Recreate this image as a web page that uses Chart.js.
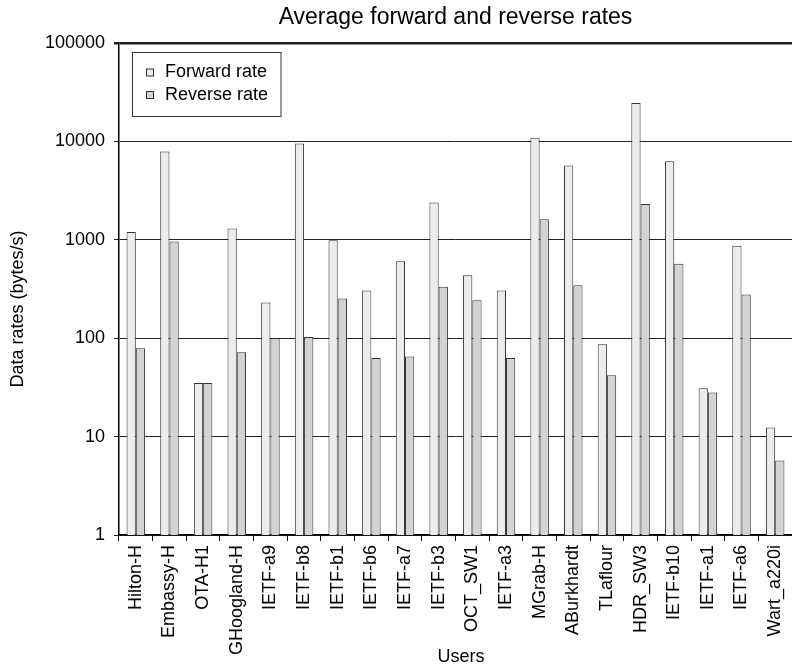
<!DOCTYPE html>
<html lang="en">
<head>
<meta charset="UTF-8">
<title>Average forward and reverse rates</title>
<script src="https://cdn.jsdelivr.net/npm/chart.js"></script>
<style>
    html, body {
        margin: 0;
        padding: 0;
        background: #fff;
    }

    #wrap {
        width: 792px;
        height: 667px;
    }
</style>
</head>
<body>
<div id="wrap"><canvas id="rates" width="792" height="667"></canvas></div>
<script>
    // data (bytes/s, log axis)
    const users = ['Hilton-H', 'Embassy-H', 'OTA-H1', 'GHoogland-H', 'IETF-a9', 'IETF-b8', 'IETF-b1',
        'IETF-b6', 'IETF-a7', 'IETF-b3', 'OCT_SW1', 'IETF-a3', 'MGrab-H', 'ABurkhardt', 'TLaflour',
        'HDR_SW3', 'IETF-b10', 'IETF-a1', 'IETF-a6', 'Wart_a220i'];
    const forwardRate = [1200, 7900, 35, 1300, 230, 9500, 990, 305, 605, 2400, 435, 305, 10900, 5700, 87,
        24500, 6300, 31, 870, 12.4];
    const reverseRate = [79, 960, 35, 72, 100, 103, 253, 63, 65, 333, 243, 63, 1620, 346, 42,
        2310, 570, 28, 278, 5.7];
    const yTicks = [1, 10, 100, 1000, 10000, 100000];

    const FONT = '"Liberation Sans", Arial, Helvetica, sans-serif';
    Chart.defaults.font.family = FONT;
    Chart.defaults.color = '#000';

    // title, axis titles and the boxed legend
    const decorations = {
        id: 'decorations',
        afterDraw(chart) {
            const ctx = chart.ctx;
            const area = chart.chartArea;
            const mid = (area.left + area.right) / 2;
            ctx.save();
            ctx.fillStyle = '#000';
            ctx.textBaseline = 'middle';
            ctx.textAlign = 'center';

            ctx.font = '23px ' + FONT;
            ctx.fillText('Average forward and reverse rates', mid, 18);

            ctx.font = '18px ' + FONT;
            ctx.fillText('Users', 461, 657);

            ctx.save();
            ctx.translate(18, 309);
            ctx.rotate(-Math.PI / 2);
            ctx.fillText('Data rates (bytes/s)', 0, 0);
            ctx.restore();

            // legend
            ctx.fillStyle = '#fff';
            ctx.fillRect(132.5, 52.5, 148.5, 64);
            ctx.strokeStyle = '#333';
            ctx.lineWidth = 1;
            ctx.strokeRect(132.5, 52.5, 148.5, 64);
            ctx.textAlign = 'left';
            chart.data.datasets.forEach((ds, i) => {
                const y = 72.5 + i * 22.5;
                ctx.fillStyle = ds.backgroundColor;
                ctx.fillRect(146.5, y - 3.5, 7, 7);
                ctx.strokeStyle = '#333';
                ctx.strokeRect(146.5, y - 3.5, 7, 7);
                ctx.fillStyle = '#000';
                ctx.fillText(ds.label, 165, y);
            });
            ctx.restore();
        }
    };

    new Chart(document.getElementById('rates'), {
        type: 'bar',
        data: {
            labels: users,
            datasets: [
                {
                    label: 'Forward rate',
                    data: forwardRate,
                    backgroundColor: '#ececec',
                    borderColor: '#333',
                    borderWidth: 1
                },
                {
                    label: 'Reverse rate',
                    data: reverseRate,
                    backgroundColor: '#d3d3d3',
                    borderColor: '#333',
                    borderWidth: 1
                }
            ]
        },
        options: {
            responsive: false,
            animation: false,
            devicePixelRatio: 1,
            layout: { padding: { top: 43, right: 0, bottom: 0, left: 0 } },
            datasets: { bar: { categoryPercentage: 0.55, barPercentage: 1 } },
            plugins: {
                legend: { display: false },
                title: { display: false },
                tooltip: { enabled: false }
            },
            scales: {
                x: {
                    grid: {
                        offset: true,
                        drawOnChartArea: false,
                        drawTicks: true,
                        tickLength: 6,
                        color: '#000'
                    },
                    border: { color: '#000', width: 1.5 },
                    ticks: {
                        autoSkip: false,
                        minRotation: 90,
                        maxRotation: 90,
                        padding: 4,
                        font: { size: 18 }
                    },
                    afterFit: s => {
                        s.height = 132;
                        // let the plot run to the right edge like the reference
                        s.paddingLeft = 0;
                        s.paddingRight = 0;
                    }
                },
                y: {
                    type: 'logarithmic',
                    min: 1,
                    max: 100000,
                    afterBuildTicks: s => { s.ticks = yTicks.map(v => ({ value: v })); },
                    ticks: {
                        padding: 9,
                        font: { size: 18 },
                        callback: v => String(v)
                    },
                    grid: {
                        color: '#222',
                        tickLength: 5,
                        lineWidth: c => (c.tick && c.tick.value === 100000 ? 2.5 : 1)
                    },
                    border: { color: '#000', width: 1.5 },
                    afterFit: s => { s.width = 119; }
                }
            }
        },
        plugins: [decorations]
    });
</script>
</body>
</html>
